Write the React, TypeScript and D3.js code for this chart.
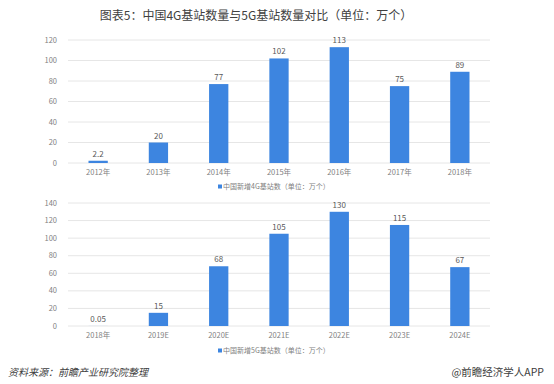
import React from "react";
import * as d3 from "d3";

const title = "图表5：中国4G基站数量与5G基站数量对比（单位：万个）";
const cats4g = ["2012年", "2013年", "2014年", "2015年", "2016年", "2017年", "2018年"];
const vals4g = [2.2, 20, 77, 102, 113, 75, 89];
const labels4g = ["2.2", "20", "77", "102", "113", "75", "89"];
const ticks4g = [0, 20, 40, 60, 80, 100, 120];
const legend4g = "中国新增4G基站数（单位：万个）";

const cats5g = ["2018年", "2019E", "2020E", "2021E", "2022E", "2023E", "2024E"];
const vals5g = [0.05, 15, 68, 105, 130, 115, 67];
const labels5g = ["0.05", "15", "68", "105", "130", "115", "67"];
const ticks5g = [0, 20, 40, 60, 80, 100, 120, 140];
const legend5g = "中国新增5G基站数（单位：万个）";

const source = "资料来源：前瞻产业研究院整理";
const brand = "@前瞻经济学人APP";

const BAR = "#3d85e0";
const FONT = "'Microsoft YaHei', 'Noto Sans CJK SC', sans-serif";

function Panel({ cats, vals, labels, ticks, legend, top, bottom, legendY }) {
  const x = d3.scaleBand().domain(cats).range([68, 490]).paddingInner(0.68).paddingOuter(0.34);
  const y = d3.scaleLinear().domain([0, ticks[ticks.length - 1]]).range([bottom, top]);
  return (
    <g>
      {ticks.map((t) => (
        <g key={t}>
          <line x1={68} x2={490} y1={y(t)} y2={y(t)} stroke="#e6e6e6" strokeWidth={1} />
          <text x={57} y={y(t)} dy="0.35em" textAnchor="end" fontSize={7.5} fill="#7f7f7f">{t}</text>
        </g>
      ))}
      {cats.map((c, i) => (
        <g key={c}>
          <rect x={x(c)} y={y(vals[i])} width={x.bandwidth()} height={bottom - y(vals[i])} fill={BAR} />
          <text x={x(c) + x.bandwidth() / 2} y={y(vals[i]) - 4} textAnchor="middle" fontSize={8} fill="#595959">{labels[i]}</text>
          <text x={x(c) + x.bandwidth() / 2} y={bottom + 12} textAnchor="middle" fontSize={7.5} fill="#7f7f7f">{c}</text>
        </g>
      ))}
      <rect x={218} y={legendY - 2.5} width={4} height={4} fill={BAR} />
      <text x={223} y={legendY} dy="0.35em" fontSize={7} fill="#7f7f7f">{legend}</text>
    </g>
  );
}

export default function App() {
  return (
    <svg width={554} height={384} style={{ display: "block", position: "absolute", left: 0, top: 0 }} fontFamily={FONT}>
      <rect width={554} height={384} fill="#ffffff" />
      <text x={256} y={16} dy="0.35em" textAnchor="middle" fontSize={12} fill="#404040">{title}</text>
      <Panel cats={cats4g} vals={vals4g} labels={labels4g} ticks={ticks4g} legend={legend4g} top={40} bottom={163} legendY={187} />
      <Panel cats={cats5g} vals={vals5g} labels={labels5g} ticks={ticks5g} legend={legend5g} top={203} bottom={326} legendY={351} />
      <text x={8} y={372} dy="0.35em" fontSize={10} fontStyle="italic" fill="#404040">{source}</text>
      <text x={544} y={372} dy="0.35em" textAnchor="end" fontSize={10.5} fill="#404040">{brand}</text>
    </svg>
  );
}
